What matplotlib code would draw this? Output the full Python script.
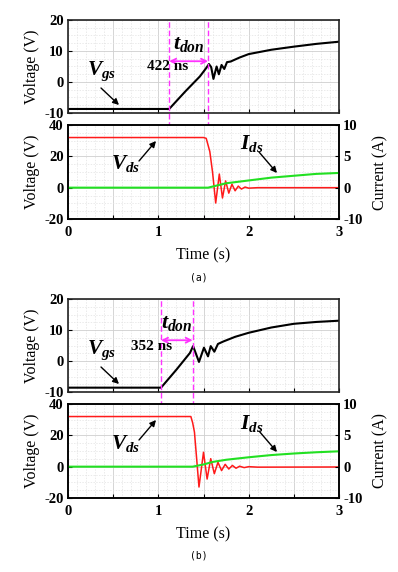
import matplotlib
matplotlib.use("Agg")
import matplotlib.pyplot as plt
from matplotlib.patches import FancyArrowPatch
from matplotlib.ticker import MultipleLocator

plt.rcParams["font.family"] = "Liberation Serif"
plt.rcParams["font.weight"] = "bold"
plt.rcParams["axes.unicode_minus"] = False
plt.rcParams["mathtext.fontset"] = "custom"
plt.rcParams["mathtext.it"] = "Liberation Serif:italic:bold"
plt.rcParams["mathtext.rm"] = "Liberation Serif:bold"

# ---- panel (a) data ----
a_vgs_t = [0, 1.12, 1.30, 1.46, 1.53, 1.56, 1.585, 1.61, 1.645, 1.67, 1.70, 1.73, 1.76, 1.80,
           1.9, 2.0, 2.25, 2.5, 2.75, 3.0]
a_vgs_v = [-8.7, -8.7, -3.0, 1.8, 4.5, 5.8, 4.8, 1.0, 5.0, 2.5, 5.5, 4.2, 6.4, 6.6,
           7.9, 9.0, 10.4, 11.4, 12.3, 13.0]
a_vds_t = [0, 1.50, 1.53, 1.57, 1.60, 1.635, 1.675, 1.71, 1.745, 1.78, 1.815, 1.85, 1.885,
           1.92, 1.96, 2.0, 2.1, 3.0]
a_vds_v = [32.0, 32.0, 31.5, 23.0, 10.0, -9.8, 8.7, -6.6, 4.3, -3.5, 2.2, -2.0, 1.0,
           -0.9, 0.4, -0.3, 0.0, 0.0]
a_ids_t = [0, 1.55, 1.65, 1.75, 2.0, 2.25, 2.5, 2.75, 3.0]
a_ids_i = [0, 0, 0.35, 0.70, 1.15, 1.60, 1.90, 2.20, 2.35]
a_ton = [1.12, 1.55]
a_label = "422 ns"

# ---- panel (b) data ----
b_vgs_t = [0, 1.03, 1.20, 1.35, 1.385, 1.45, 1.505, 1.55, 1.58, 1.62, 1.66, 1.72,
           1.85, 2.0, 2.25, 2.5, 2.75, 3.0]
b_vgs_v = [-8.6, -8.6, -2.8, 2.6, 4.8, -0.3, 4.3, 1.5, 4.8, 3.0, 5.5, 6.3,
           7.8, 9.1, 10.8, 12.0, 12.6, 13.0]
b_vds_t = [0, 1.36, 1.38, 1.40, 1.45, 1.50, 1.54, 1.58, 1.62, 1.66, 1.70, 1.74, 1.78,
           1.82, 1.86, 1.90, 1.95, 2.0, 2.1, 3.0]
b_vds_v = [32.0, 32.0, 28.0, 22.0, -13.0, 9.2, -7.9, 5.1, -4.5, 2.8, -2.5, 1.5, -1.5,
           0.8, -1.0, 0.3, -0.6, 0.0, -0.3, -0.2]
b_ids_t = [0, 1.38, 1.5, 1.6, 1.75, 2.0, 2.25, 2.5, 2.75, 3.0]
b_ids_i = [0, 0, 0.35, 0.75, 1.10, 1.50, 1.85, 2.10, 2.30, 2.45]
b_ton = [1.03, 1.38]
b_label = "352 ns"

W, H = 398, 572
fig = plt.figure(figsize=(W / 100, H / 100), dpi=100, facecolor="white")

MAG = "#ff33ff"
GRID = "#cfcfcf"
MINOR = "#e2e2e2"


def fx(px):
    return px / W


def fy(py):
    return 1 - py / H


def style(ax, ymaj, ymin_step):
    ax.set_xlim(0, 3)
    ax.xaxis.set_major_locator(MultipleLocator(0.5))
    ax.xaxis.set_minor_locator(MultipleLocator(0.1))
    ax.yaxis.set_major_locator(MultipleLocator(ymaj))
    ax.yaxis.set_minor_locator(MultipleLocator(ymin_step))
    ax.grid(which="major", color=GRID, lw=0.6)
    ax.grid(which="minor", color=MINOR, lw=0.5, ls=(0, (2, 2)))
    ax.tick_params(which="both", direction="in", labelsize=10.5, length=3, pad=3)
    ax.tick_params(which="minor", length=0)
    for s in ax.spines.values():
        s.set_linewidth(1.2)
        s.set_color("#222222")
    ax.set_axisbelow(True)


def panel(top, d):
    vgs_t, vgs_v, vds_t, vds_v, ids_t, ids_i, ton, lab = d
    left, right = 68, 339
    ax1 = fig.add_axes([fx(left), fy(top + 93), fx(right - left), 93 / H])
    ax2 = fig.add_axes([fx(left), fy(top + 199), fx(right - left), 94 / H])

    style(ax1, 10, 2.5)
    ax1.set_ylim(-10, 20)
    ax1.set_xticklabels([])
    ax1.plot(vgs_t, vgs_v, color="black", lw=1.5)
    ax1.set_ylabel("Voltage (V)", fontsize=11.5, labelpad=3)

    style(ax2, 20, 5)
    ax2.set_ylim(-20, 40)
    ax2.set_xticks([0, 0.5, 1, 1.5, 2, 2.5, 3])
    ax2.set_xticklabels(["0", "", "1", "", "2", "", "3"])
    ax2.tick_params(axis="x", pad=5)
    ax2.plot(vds_t, vds_v, color="#ff1a1a", lw=1.1, zorder=3)
    ax2.set_ylabel("Voltage (V)", fontsize=11.5, labelpad=3)
    ax2.set_xlabel("Time (s)", fontsize=11.5, labelpad=6)

    tw = ax2.twinx()
    tw.set_ylim(-5, 10)
    tw.set_yticks([-5, 0, 5, 10])
    tw.set_yticklabels(["-10", "0", "5", "10"])
    tw.tick_params(direction="in", labelsize=10.5, length=3, pad=3)
    tw.plot(ids_t, ids_i, color="#22e022", lw=1.5, zorder=2)
    tw.set_ylabel("Current (A)", fontsize=11.5, labelpad=7)
    for s in tw.spines.values():
        s.set_linewidth(1.2)

    # dashed turn-on markers running through both axes
    for x in ton:
        ax1.axvline(x, ymin=-106 / 93, ymax=1, color=MAG, lw=1.0,
                    ls=(0, (4, 2)), clip_on=False, zorder=5)

    ax1.annotate("", xy=(ton[1], 6.7), xytext=(ton[0], 6.7),
                 arrowprops=dict(arrowstyle="<->", color=MAG, lw=1.3,
                                 shrinkA=0, shrinkB=0, mutation_scale=9))
    return ax1, ax2, tw


data_a = (a_vgs_t, a_vgs_v, a_vds_t, a_vds_v, a_ids_t, a_ids_i, a_ton, a_label)
data_b = (b_vgs_t, b_vgs_v, b_vds_t, b_vds_v, b_ids_t, b_ids_i, b_ton, b_label)

arrow = dict(arrowstyle="-|>", color="black", lw=1.0, mutation_scale=9,
             shrinkA=0, shrinkB=0)

for top, d, tag, off, xl in [(20, data_a, "(a)", 0, 168), (299, data_b, "(b)", 279, 152)]:
    panel(top, d)
    ton = d[6]
    tx = (ton[0] + ton[1]) / 2
    fig.text(fx(87), fy(71 + off), r"$V_{gs}$", fontsize=15.5, ha="left", va="center")
    fig.text(fx(111), fy(164 + off), r"$V_{ds}$", fontsize=15.5, ha="left", va="center")
    fig.text(fx(240), fy(144 + off), r"$I_{ds}$", fontsize=15.5, ha="left", va="center")
    xd = 68 + tx / 3 * 271
    fig.text(fx(xd), fy(44 + off), r"$t_{don}$", fontsize=16, ha="center", va="center")
    fig.text(fx(xl), fy(67 + off), d[7], fontsize=11, ha="center", va="center")
    fig.text(0.5, fy(277 + off), tag, fontsize=7,
             family="DejaVu Sans Mono", weight="normal", ha="center", va="center")

    fig.add_artist(FancyArrowPatch((fx(101), fy(88 + off)), (fx(119), fy(105 + off)),
                                   transform=fig.transFigure, **arrow))
    fig.add_artist(FancyArrowPatch((fx(139), fy(161 + off)), (fx(156), fy(141 + off)),
                                   transform=fig.transFigure, **arrow))
    fig.add_artist(FancyArrowPatch((fx(259), fy(152 + off)), (fx(277), fy(173 + off)),
                                   transform=fig.transFigure, **arrow))

fig.savefig("out.png", dpi=100, facecolor="white")
